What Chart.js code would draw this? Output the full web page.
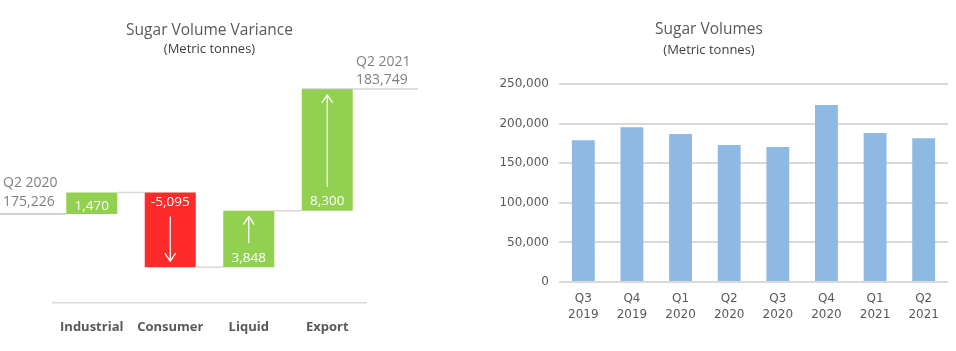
<!DOCTYPE html>
<html>
<head>
<meta charset="utf-8">
<script src="https://cdn.jsdelivr.net/npm/chart.js@4"></script>
<style>
  html, body { margin: 0; padding: 0; background: #ffffff; }
  body { width: 956px; height: 351px; position: relative; overflow: hidden; }
  #left { position: absolute; left: 0; top: 0; }
  #right { position: absolute; left: 470px; top: 0; }
</style>
</head>
<body>
<canvas id="left" width="420" height="351" style="width:420px;height:351px"></canvas>
<canvas id="right" width="486" height="351" style="width:486px;height:351px"></canvas>
<script>
// ---- Data: waterfall (left) ----
const waterfallTitle = 'Sugar Volume Variance';
const unitsSubtitle = '(Metric tonnes)';
const waterfallCategories = ['Industrial', 'Consumer', 'Liquid', 'Export'];
const waterfallChanges = [1470, -5095, 3848, 8300];
const startLabel = 'Q2 2020';
const startValue = 175226;
const endLabel = 'Q2 2021';
const endValue = 183749;

// ---- Data: volumes (right) ----
const volumesTitle = 'Sugar Volumes';
const quarterLabels = [['Q3', '2019'], ['Q4', '2019'], ['Q1', '2020'], ['Q2', '2020'], ['Q3', '2020'], ['Q4', '2020'], ['Q1', '2021'], ['Q2', '2021']];
const quarterVolumes = [179000, 195500, 187000, 173000, 170500, 223500, 188000, 181500];
const volumeTicks = [0, 50000, 100000, 150000, 200000, 250000];

// ---- Styling ----
const GREEN = '#92D050';
const RED = '#FF2A2A';
const BLUE = '#8DB9E2';
const GRID = '#D9D9D9';
const TXT = '#595959';
const FONT = "'Open Sans', 'Noto Sans', sans-serif";
const AXFONT = "'DejaVu Sans', sans-serif";
const fmt = v => v.toLocaleString('en-US');

// floating ranges built from the changes
const ranges = [];
let running = startValue;
waterfallChanges.forEach(d => { ranges.push([running, running + d]); running += d; });

const waterfallPlugin = {
  id: 'waterfallDecor',
  beforeDatasetsDraw(chart) {
    const ctx = chart.ctx, y = chart.scales.y;
    const meta = chart.getDatasetMeta(0);
    ctx.save();
    ctx.strokeStyle = GRID;
    ctx.lineWidth = 1.5;
    for (let i = 0; i < meta.data.length - 1; i++) {
      const a = meta.data[i], b = meta.data[i + 1];
      const yy = y.getPixelForValue(ranges[i][1]);
      ctx.beginPath();
      ctx.moveTo(a.x + a.width / 2, yy);
      ctx.lineTo(b.x - b.width / 2, yy);
      ctx.stroke();
    }
    const first = meta.data[0];
    const ys = y.getPixelForValue(startValue);
    ctx.strokeStyle = '#A6A6A6';
    ctx.lineWidth = 1;
    ctx.beginPath();
    ctx.moveTo(0, ys);
    ctx.lineTo(first.x - first.width / 2, ys);
    ctx.stroke();
    ctx.restore();
  },
  afterDatasetsDraw(chart) {
    const ctx = chart.ctx, y = chart.scales.y;
    const meta = chart.getDatasetMeta(0);
    ctx.save();
    const last = meta.data[meta.data.length - 1];
    const ye = y.getPixelForValue(endValue);
    ctx.strokeStyle = '#BFBFBF';
    ctx.lineWidth = 1;
    ctx.beginPath();
    ctx.moveTo(last.x - last.width / 2, ye);
    ctx.lineTo(418, ye);
    ctx.stroke();

    const ys = y.getPixelForValue(startValue);
    ctx.fillStyle = '#7F7F7F';
    ctx.font = '14px ' + FONT;
    ctx.textAlign = 'left';
    ctx.textBaseline = 'middle';
    ctx.fillText(startLabel, 3, ys - 31);
    ctx.fillText(fmt(startValue), 3, ys - 12);
    ctx.fillText(endLabel, 356, ye - 27);
    ctx.fillText(fmt(endValue), 356, ye - 9);

    ctx.fillStyle = '#FFFFFF';
    ctx.strokeStyle = '#FFFFFF';
    ctx.textAlign = 'center';
    ctx.font = '13.5px ' + FONT;
    meta.data.forEach((bar, i) => {
      const s = y.getPixelForValue(ranges[i][0]);
      const e = y.getPixelForValue(ranges[i][1]);
      const dir = e < s ? -1 : 1;
      const h = Math.abs(e - s);
      const labelY = h < 30 ? (s + e) / 2 + 2.5 : s + dir * 9.5;
      ctx.fillText(fmt(waterfallChanges[i]), bar.x, labelY);
      if (h > 45) {
        const y1 = s + dir * 24;
        const y2 = e - dir * 6;
        ctx.lineWidth = 1.3;
        ctx.beginPath();
        ctx.moveTo(bar.x, y1);
        ctx.lineTo(bar.x, y2);
        ctx.stroke();
        ctx.beginPath();
        ctx.moveTo(bar.x - 5.5, y2 - dir * 8);
        ctx.lineTo(bar.x, y2);
        ctx.lineTo(bar.x + 5.5, y2 - dir * 8);
        ctx.stroke();
      }
    });
    ctx.restore();
  }
};

new Chart(document.getElementById('left'), {
  type: 'bar',
  data: {
    labels: waterfallCategories,
    datasets: [{
      data: ranges,
      backgroundColor: waterfallChanges.map(d => d < 0 ? RED : GREEN),
      borderWidth: 0,
      barPercentage: 0.65,
      categoryPercentage: 1.0
    }]
  },
  options: {
    responsive: false,
    maintainAspectRatio: false,
    animation: false,
    devicePixelRatio: 1,
    layout: { padding: { left: 52.5, right: 53.5, top: 0, bottom: 0 } },
    plugins: {
      legend: { display: false },
      tooltip: { enabled: false },
      title: {
        display: true, text: waterfallTitle, color: TXT,
        font: { family: FONT, size: 15.5, weight: 'normal', lineHeight: 1.2 },
        padding: { top: 21, bottom: 0 }
      },
      subtitle: {
        display: true, text: unitsSubtitle, color: '#404040',
        font: { family: FONT, size: 13, weight: 'normal', lineHeight: 1.2 },
        padding: { top: 1.6, bottom: 3.2 }
      }
    },
    scales: {
      x: {
        grid: { display: false, drawTicks: false },
        border: { display: true, color: GRID, width: 1.5 },
        ticks: { color: TXT, padding: 16, maxRotation: 0, autoSkip: false, font: { family: FONT, size: 13, weight: 'bold' } },
        afterFit(s) { s.height = 48; }
      },
      y: {
        display: false,
        min: 169158,
        max: 185726
      }
    }
  },
  plugins: [waterfallPlugin]
});

new Chart(document.getElementById('right'), {
  type: 'bar',
  data: {
    labels: quarterLabels,
    datasets: [{
      data: quarterVolumes,
      backgroundColor: BLUE,
      borderWidth: 0,
      barPercentage: 0.47,
      categoryPercentage: 1.0
    }]
  },
  options: {
    responsive: false,
    maintainAspectRatio: false,
    animation: false,
    devicePixelRatio: 1,
    layout: { padding: { left: 0, right: 8, top: 0, bottom: 0 } },
    plugins: {
      legend: { display: false },
      tooltip: { enabled: false },
      title: {
        display: true, text: volumesTitle, color: TXT,
        font: { family: FONT, size: 15.5, weight: 'normal', lineHeight: 1.2 },
        padding: { top: 20, bottom: 0 }
      },
      subtitle: {
        display: true, text: unitsSubtitle, color: '#404040',
        font: { family: FONT, size: 13, weight: 'normal', lineHeight: 1.2 },
        padding: { top: 3.6, bottom: 26.2 }
      }
    },
    scales: {
      x: {
        grid: { display: false, drawTicks: false },
        border: { display: false },
        ticks: { color: TXT, padding: 9, maxRotation: 0, autoSkip: false, font: { family: AXFONT, size: 12, lineHeight: 1.35 } },
        afterFit(s) { s.height = 69; }
      },
      y: {
        min: 0,
        max: 250000,
        afterBuildTicks(s) { s.ticks = volumeTicks.map(v => ({ value: v })); },
        grid: { color: GRID, lineWidth: 2, drawTicks: false },
        border: { display: false },
        ticks: { color: TXT, padding: 10, font: { family: AXFONT, size: 12 }, callback: v => fmt(v) },
        afterFit(s) { s.width = 89; }
      }
    }
  }
});
</script>
</body>
</html>
